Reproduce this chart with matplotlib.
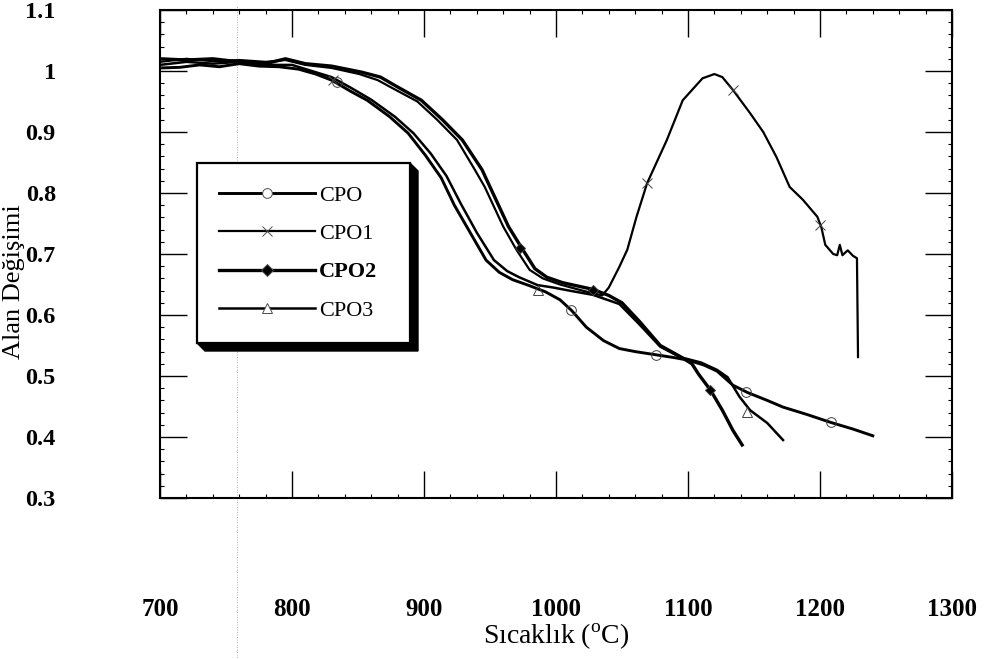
import numpy as np
import matplotlib
matplotlib.use("Agg")
import matplotlib.pyplot as plt
from matplotlib.lines import Line2D
from matplotlib.patches import Polygon
from matplotlib.ticker import MultipleLocator, FuncFormatter

plt.rcParams["font.family"] = ["Liberation Serif", "DejaVu Serif"]
plt.rcParams["mathtext.fontset"] = "custom"
plt.rcParams["mathtext.rm"] = "Liberation Serif"

# --- data (temperature in C, area change) ---
cpo_t = [700, 715, 730, 745, 760, 775, 790, 805, 818, 830, 845, 857, 874, 888, 901,
         913, 923, 935, 947, 957, 967, 980, 992, 1003, 1012, 1023, 1036, 1048, 1060,
         1075, 1090, 1100, 1112, 1122, 1134, 1145, 1160, 1172, 1190, 1208, 1225, 1240]
cpo_v = [1.005, 1.006, 1.010, 1.007, 1.012, 1.008, 1.007, 1.003, 0.995, 0.985, 0.966,
         0.952, 0.925, 0.898, 0.862, 0.825, 0.780, 0.735, 0.690, 0.670, 0.658, 0.648,
         0.638, 0.625, 0.607, 0.580, 0.558, 0.545, 0.540, 0.535, 0.530, 0.526, 0.518,
         0.508, 0.485, 0.473, 0.460, 0.449, 0.437, 0.424, 0.413, 0.402]

cpo1_t = [700, 720, 740, 760, 780, 795, 810, 830, 851, 865, 876, 895, 910, 925, 938,
          946, 960, 970, 980, 990, 1003, 1020, 1035, 1040, 1048, 1054, 1061, 1069,
          1084, 1096, 1111, 1120, 1126, 1134, 1147, 1157, 1167, 1177, 1187, 1198,
          1201, 1204, 1210, 1213, 1215, 1217, 1221, 1225, 1228, 1228.8]
cpo1_v = [1.015, 1.020, 1.016, 1.018, 1.015, 1.018, 1.010, 1.005, 0.995, 0.985, 0.972,
          0.950, 0.920, 0.887, 0.840, 0.810, 0.745, 0.707, 0.674, 0.660, 0.650, 0.640,
          0.632, 0.645, 0.679, 0.707, 0.761, 0.816, 0.887, 0.952, 0.988, 0.995, 0.990,
          0.969, 0.931, 0.900, 0.859, 0.810, 0.789, 0.761, 0.744, 0.715, 0.700, 0.698,
          0.715, 0.698, 0.706, 0.697, 0.693, 0.531]

cpo2_t = [700, 720, 740, 760, 780, 795, 810, 830, 853, 867, 879, 898, 914, 929, 944,
          950, 964, 974, 984, 993, 1005, 1028, 1040, 1050, 1063, 1079, 1094, 1103,
          1108, 1117, 1126, 1134, 1141]
cpo2_v = [1.020, 1.018, 1.020, 1.015, 1.012, 1.020, 1.012, 1.008, 0.998, 0.990, 0.975,
          0.952, 0.920, 0.887, 0.838, 0.810, 0.745, 0.710, 0.676, 0.662, 0.653, 0.642,
          0.632, 0.620, 0.590, 0.550, 0.532, 0.520, 0.503, 0.477, 0.444, 0.411, 0.387]

cpo3_t = [700, 720, 740, 760, 780, 800, 815, 830, 845, 860, 878, 892, 905, 917, 928,
          940, 953, 963, 972, 986, 998, 1010, 1028, 1048, 1063, 1079, 1094, 1110,
          1122, 1130, 1139, 1147, 1160, 1172]
cpo3_v = [1.010, 1.015, 1.012, 1.015, 1.010, 1.010, 1.000, 0.990, 0.972, 0.953, 0.925,
          0.898, 0.865, 0.828, 0.782, 0.735, 0.690, 0.672, 0.662, 0.649, 0.645, 0.640,
          0.633, 0.618, 0.585, 0.548, 0.531, 0.522, 0.510, 0.498, 0.466, 0.444, 0.423,
          0.395]

# marker positions seen on the curves
cpo_mk_t, cpo_mk_v = [834, 1011, 1076, 1144, 1208], [0.982, 0.608, 0.534, 0.473, 0.424]
cpo1_mk_t, cpo1_mk_v = [831, 1069, 1134, 1200], [0.985, 0.816, 0.969, 0.748]
cpo2_mk_t, cpo2_mk_v = [973, 1028, 1117], [0.710, 0.641, 0.477]
cpo3_mk_t, cpo3_mk_v = [986, 1145], [0.641, 0.441]

labels = ["CPO", "CPO1", "CPO2", "CPO3"]
xticks = [700, 800, 900, 1000, 1100, 1200, 1300]
yticks = [0.3, 0.4, 0.5, 0.6, 0.7, 0.8, 0.9, 1.0, 1.1]

fig = plt.figure(figsize=(9.84, 6.59), dpi=100)
ax = fig.add_axes([160 / 984, 1 - 498 / 659, 792 / 984, 488 / 659])

series = [
    (cpo_t, cpo_v, cpo_mk_t, cpo_mk_v, "o", 2.1),
    (cpo1_t, cpo1_v, cpo1_mk_t, cpo1_mk_v, "x", 1.6),
    (cpo2_t, cpo2_v, cpo2_mk_t, cpo2_mk_v, "D", 2.4),
    (cpo3_t, cpo3_v, cpo3_mk_t, cpo3_mk_v, "^", 1.8),
]
handles = []
for (t, v, mt, mv, mk, lw), lab in zip(series, labels):
    ax.plot(t, v, color="black", lw=lw, solid_joinstyle="round", zorder=3)
    filled = mk == "D"
    ax.plot(mt, mv, ls="none", marker=mk, ms=7 if mk != "D" else 5,
            mfc="black" if filled else "none", mec="0.25", mew=0.7, zorder=4)
    handles.append(Line2D([], [], color="black", lw=lw, marker=mk,
                          ms=7 if mk != "D" else 6,
                          mfc="black" if filled else "white", mec="0.3", mew=0.7))

ax.set_xlim(700, 1300)
ax.set_ylim(0.3, 1.1)
ax.set_xticks(xticks)
ax.set_yticks(yticks)
ax.xaxis.set_minor_locator(MultipleLocator(20))
ax.yaxis.set_minor_locator(MultipleLocator(0.02))
ax.yaxis.set_major_formatter(FuncFormatter(lambda v, _: f"{v:g}"))
ax.tick_params(which="both", direction="in", top=True, right=True, color="black")
ax.tick_params(which="major", length=19.5, width=1.0)
ax.tick_params(which="minor", length=3, width=0.8)
ax.tick_params(axis="x", which="major", pad=72, labelsize=18)
ax.tick_params(axis="y", which="major", pad=75, labelsize=17.5)
for lab in ax.get_xticklabels() + ax.get_yticklabels():
    lab.set_fontweight("bold")
for s in ax.spines.values():
    s.set_linewidth(1.5)

ax.set_xlabel(r"Sıcaklık ($^{\mathrm{o}}$C)", fontsize=20, va="center")
ax.xaxis.set_label_coords(0.5, (498 - 637) / 488)
ax.set_ylabel("Alan Değişimi", fontsize=19, va="center")
ax.yaxis.set_label_coords((14 - 160) / 792, (498 - 282) / 488)

# faint scan line of the original
ax.axvline(758, ymin=-1.32, ymax=1.01, color="0.6", lw=0.6, ls=(0, (1, 2)),
           clip_on=False, zorder=1)

leg = ax.legend(handles, labels, loc="upper left", mode="expand",
                bbox_to_anchor=(37 / 792, (498 - 163) / 488 - 0.01, 213 / 792, 0.01),
                borderaxespad=0, fontsize=16, handlelength=4.3, handletextpad=0.2,
                labelspacing=0.8, borderpad=1.0, numpoints=1, fancybox=False,
                framealpha=1, edgecolor="black")
leg.get_frame().set_linewidth(1.6)
leg.set_zorder(6)
leg.get_texts()[2].set_fontweight("bold")

# 3-D looking black shadow of the legend box
fig.canvas.draw()
bb = leg.get_window_extent()
d = 8
pts = [(bb.x1, bb.y1), (bb.x1 + d, bb.y1 - d), (bb.x1 + d, bb.y0 - d),
       (bb.x0 + d, bb.y0 - d), (bb.x0, bb.y0)]
pts_ax = ax.transAxes.inverted().transform(pts)
ax.add_patch(Polygon(pts_ax, closed=True, transform=ax.transAxes, color="black",
                     zorder=5.5, clip_on=False))

fig.savefig("out.png", dpi=100)
